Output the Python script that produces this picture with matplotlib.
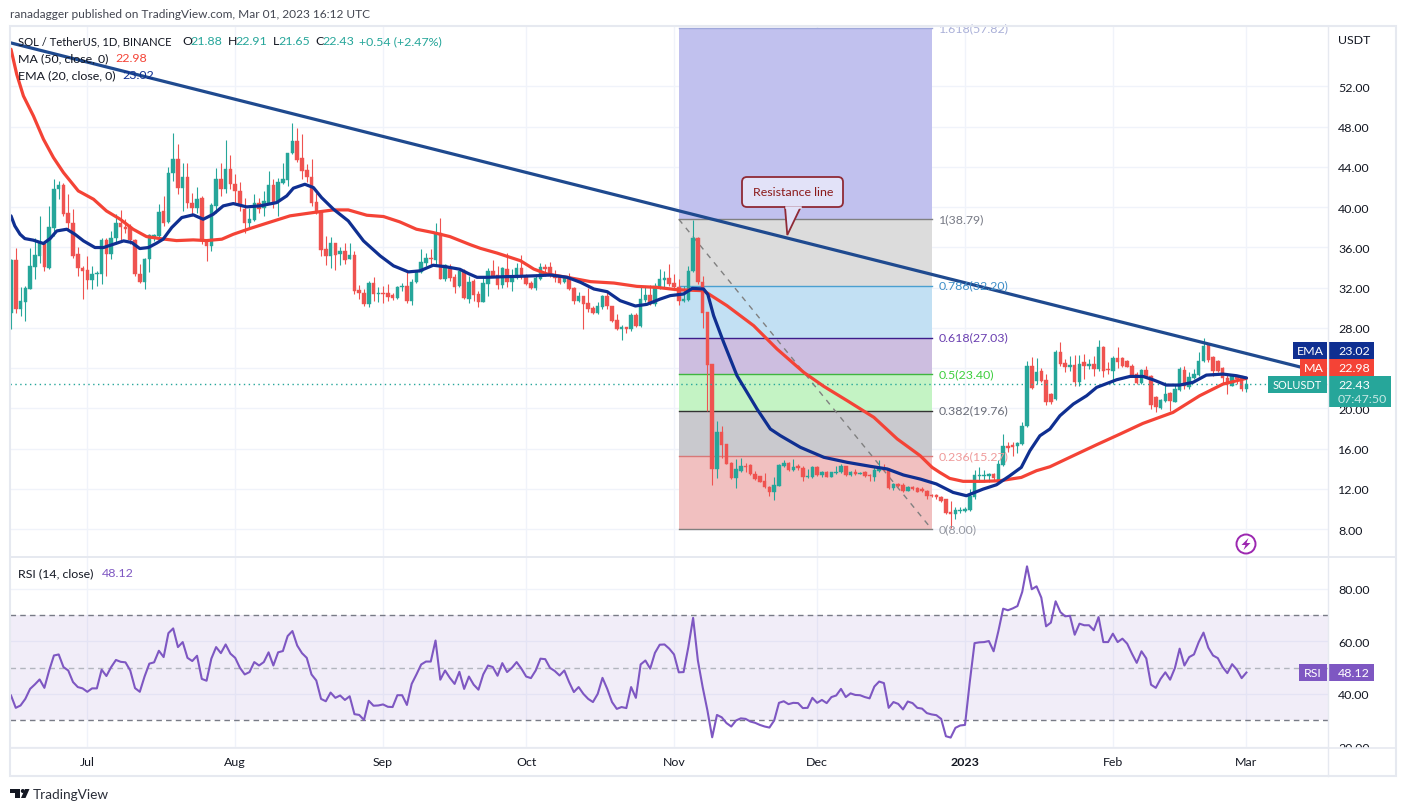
import matplotlib
matplotlib.use('Agg')
import matplotlib.pyplot as plt
from matplotlib.patches import Rectangle, FancyBboxPatch, Polygon, Circle
from matplotlib.transforms import Bbox

plt.rcParams['font.family'] = ['Lato', 'DejaVu Sans']

W, H = 1406, 812

# daily SOL/USDT candles, Jun 15 2022 (day 0) to Mar 1 2023 (day 259)
opens = [
    29.52, 34.75, 29.92, 30.58, 31.84, 34.06, 35.15, 36.38, 33.99, 37.97,
    41.78, 42.17, 39.39, 38.46, 35.32, 33.99, 33.76, 32.76, 33.30, 33.30,
    36.71, 35.32, 36.91, 38.40, 38.07, 38.00, 36.71, 33.39, 32.57, 34.82,
    37.00, 37.14, 39.59, 38.53, 43.43, 44.82, 41.91, 43.03, 40.45, 39.95,
    40.91, 36.64, 36.14, 40.12, 42.84, 41.78, 43.83, 42.34, 41.61, 39.85,
    38.40, 38.73, 40.45, 39.95, 40.45, 42.17, 40.62, 42.37, 42.70, 45.35,
    46.55, 44.86, 43.66, 43.03, 40.52, 39.52, 35.81, 35.15, 36.41, 35.32,
    35.65, 34.82, 35.22, 31.74, 31.50, 30.35, 32.43, 31.34, 31.50, 31.50,
    31.24, 31.00, 32.10, 32.17, 30.68, 32.57, 33.56, 34.49, 34.98, 34.75,
    37.40, 32.83, 34.09, 33.10, 32.17, 33.66, 30.91, 32.69, 31.36, 30.60,
    32.35, 33.68, 33.25, 32.25, 33.84, 32.59, 32.92, 33.91, 33.18, 32.42,
    31.92, 32.85, 34.01, 34.01, 33.25, 33.02, 32.52, 33.02, 31.92, 30.70,
    31.20, 30.43, 29.94, 29.47, 30.03, 31.20, 30.20, 28.81, 27.88, 28.05,
    27.88, 29.27, 28.15, 30.76, 31.26, 30.37, 31.92, 32.78, 32.95, 32.45,
    32.02, 30.66, 30.80, 33.68, 36.93, 32.52, 29.54, 24.37, 13.97, 17.61,
    16.42, 14.56, 13.04, 13.80, 14.30, 14.36, 13.50, 13.24, 12.77, 12.14,
    11.65, 12.31, 14.23, 14.56, 13.87, 14.23, 14.10, 13.14, 13.17, 14.17,
    13.37, 13.70, 13.14, 13.57, 13.64, 14.30, 13.37, 13.70, 13.47, 13.64,
    13.37, 13.20, 13.80, 14.03, 13.97, 12.04, 12.48, 12.41, 11.81, 12.14,
    12.08, 11.98, 11.75, 11.38, 11.38, 11.15, 10.98, 9.72, 9.49, 9.79,
    9.82, 9.92, 11.15, 13.23, 13.23, 13.30, 13.50, 12.90, 14.36, 16.28,
    16.35, 16.21, 16.45, 18.20, 24.17, 22.74, 23.67, 22.84, 21.42, 20.92,
    25.56, 24.50, 24.07, 24.30, 22.64, 24.56, 24.23, 24.40, 23.90, 26.05,
    23.90, 23.73, 24.96, 24.96, 24.73, 24.23, 23.40, 22.51, 23.83, 23.24,
    21.08, 20.00, 20.75, 21.51, 20.65, 21.85, 23.83, 22.08, 22.97, 23.30,
    24.73, 26.29, 25.06, 24.73, 23.97, 22.97, 22.24, 23.17, 23.17, 21.88,
]
highs = [
    34.82, 35.98, 32.10, 32.17, 35.98, 36.97, 39.13, 36.64, 40.12, 42.84,
    42.60, 42.44, 41.28, 39.79, 36.08, 34.16, 35.15, 34.16, 33.66, 36.97,
    36.97, 37.63, 39.29, 39.69, 38.79, 38.30, 36.81, 34.32, 34.98, 37.30,
    37.30, 40.28, 41.11, 44.00, 47.34, 46.25, 44.43, 44.43, 41.44, 42.04,
    41.11, 36.81, 40.45, 43.93, 44.36, 46.65, 45.15, 43.27, 42.50, 40.95,
    39.95, 41.28, 40.88, 41.61, 43.60, 42.77, 42.94, 44.43, 45.42, 48.34,
    47.91, 47.24, 44.26, 44.76, 41.44, 39.72, 37.14, 37.07, 36.41, 36.08,
    36.47, 36.47, 35.65, 32.23, 31.84, 32.66, 33.10, 32.10, 32.17, 32.33,
    31.50, 32.17, 32.50, 33.76, 32.83, 33.76, 35.88, 35.48, 35.81, 38.40,
    38.96, 34.32, 34.32, 33.33, 33.89, 33.82, 33.16, 32.85, 31.69, 33.18,
    33.91, 34.74, 34.11, 34.01, 35.44, 33.84, 34.44, 35.24, 33.35, 32.69,
    33.35, 34.44, 34.34, 34.51, 33.78, 33.18, 33.18, 33.41, 32.02, 31.53,
    31.20, 31.92, 30.20, 30.60, 31.26, 31.53, 30.20, 29.37, 28.28, 28.11,
    29.44, 29.44, 32.19, 32.19, 32.25, 32.45, 33.84, 33.68, 34.34, 33.35,
    32.85, 32.12, 34.11, 38.75, 37.00, 33.12, 29.54, 24.37, 18.77, 18.21,
    16.45, 14.69, 14.96, 15.03, 14.56, 14.46, 13.80, 13.30, 13.57, 12.24,
    13.14, 14.46, 14.89, 14.63, 14.96, 14.46, 14.30, 13.97, 14.30, 14.23,
    13.80, 13.80, 13.70, 14.23, 14.43, 14.30, 13.77, 13.97, 13.70, 13.80,
    13.47, 14.13, 14.89, 14.46, 14.10, 12.58, 12.58, 12.58, 12.31, 12.31,
    12.14, 12.14, 11.91, 11.51, 11.51, 11.31, 10.98, 10.81, 10.15, 10.15,
    10.15, 11.97, 13.89, 14.13, 13.89, 13.56, 13.56, 14.89, 17.44, 16.61,
    16.68, 16.68, 18.60, 24.73, 25.06, 24.96, 23.97, 23.40, 21.51, 25.82,
    26.62, 24.89, 25.23, 25.29, 25.29, 25.39, 24.89, 25.23, 26.82, 26.22,
    24.56, 25.16, 26.05, 25.06, 24.83, 24.40, 23.57, 23.90, 24.17, 23.30,
    21.18, 20.92, 22.58, 21.65, 22.41, 24.07, 24.17, 23.64, 23.90, 25.62,
    26.95, 26.48, 25.16, 24.83, 24.07, 23.30, 23.40, 23.30, 23.24, 22.91,
]
lows = [
    27.86, 29.52, 29.19, 28.69, 31.84, 32.83, 34.49, 33.66, 33.89, 37.14,
    40.78, 39.13, 37.80, 34.98, 33.16, 30.84, 31.84, 31.90, 32.17, 32.33,
    33.16, 34.82, 36.31, 36.64, 37.47, 36.31, 33.16, 32.50, 31.90, 33.50,
    36.64, 36.64, 38.13, 38.46, 42.60, 41.28, 39.62, 39.95, 39.13, 39.46,
    36.31, 34.65, 35.65, 39.46, 41.11, 41.44, 41.78, 40.45, 39.62, 37.47,
    37.87, 38.63, 39.46, 39.13, 40.28, 39.95, 39.13, 42.27, 42.10, 45.25,
    44.49, 42.77, 42.50, 40.12, 39.29, 35.15, 34.25, 33.99, 33.76, 34.29,
    34.32, 34.82, 31.34, 30.84, 30.18, 30.02, 30.68, 30.58, 30.45, 30.68,
    30.78, 30.91, 31.67, 30.45, 30.25, 32.50, 33.43, 34.16, 34.16, 34.16,
    32.83, 32.67, 32.67, 31.50, 32.10, 30.84, 30.45, 30.70, 30.03, 30.53,
    31.20, 33.02, 31.86, 31.92, 32.02, 31.69, 32.85, 32.85, 32.25, 31.86,
    31.79, 32.75, 33.18, 33.02, 32.52, 32.35, 32.45, 31.79, 30.37, 30.60,
    27.88, 29.54, 29.37, 29.37, 29.87, 29.87, 28.54, 27.81, 26.82, 27.48,
    27.72, 28.11, 28.08, 30.60, 30.27, 30.20, 31.86, 31.92, 32.12, 31.92,
    30.27, 30.53, 30.70, 33.58, 32.35, 27.98, 19.76, 12.41, 13.07, 15.03,
    14.46, 12.97, 12.08, 13.70, 13.64, 13.37, 12.87, 12.64, 12.08, 11.25,
    10.92, 12.24, 14.13, 13.80, 13.80, 13.90, 12.81, 13.07, 13.07, 13.30,
    13.20, 13.14, 13.14, 13.47, 13.57, 13.30, 13.24, 13.40, 13.44, 13.20,
    12.74, 12.74, 13.70, 13.80, 11.98, 11.88, 12.14, 11.65, 11.75, 11.91,
    11.65, 11.71, 10.99, 11.15, 10.99, 10.65, 9.49, 8.06, 9.00, 9.59,
    9.72, 9.82, 10.98, 12.64, 12.70, 12.70, 12.90, 12.80, 14.29, 15.62,
    15.29, 15.55, 16.35, 18.10, 21.91, 22.41, 22.64, 20.32, 20.42, 20.85,
    24.23, 23.64, 23.73, 22.24, 22.24, 22.91, 23.90, 23.24, 23.73, 23.07,
    23.40, 22.41, 23.97, 24.07, 24.07, 23.07, 22.41, 22.41, 22.97, 19.92,
    19.59, 19.92, 20.59, 19.76, 20.59, 21.75, 21.91, 21.91, 22.91, 23.24,
    24.63, 24.63, 23.24, 23.57, 22.41, 21.42, 22.24, 22.41, 21.75, 21.65,
]
closes = [
    34.75, 29.92, 30.68, 32.00, 34.16, 35.22, 36.48, 34.06, 38.07, 41.84,
    42.17, 39.29, 38.40, 35.15, 33.96, 33.66, 32.76, 33.33, 33.43, 36.74,
    35.32, 36.97, 38.40, 38.03, 37.87, 36.71, 33.30, 32.57, 34.89, 37.20,
    37.20, 39.52, 38.46, 43.43, 44.82, 41.91, 43.03, 40.38, 39.95, 40.85,
    36.64, 36.14, 40.18, 42.84, 41.78, 43.83, 42.34, 41.61, 40.12, 38.40,
    38.79, 40.38, 39.85, 40.58, 42.17, 40.28, 42.50, 42.77, 45.42, 46.55,
    44.69, 43.60, 42.97, 40.38, 39.46, 35.75, 35.15, 36.41, 35.22, 35.65,
    34.75, 35.22, 31.67, 31.44, 30.35, 32.50, 31.34, 31.44, 31.34, 31.07,
    30.94, 32.10, 32.17, 30.68, 32.60, 33.66, 34.59, 34.98, 34.82, 37.47,
    32.90, 34.22, 32.96, 32.10, 33.66, 30.94, 32.57, 31.26, 30.60, 32.45,
    33.68, 33.18, 32.29, 33.91, 32.59, 32.92, 33.94, 33.18, 32.35, 31.92,
    32.95, 34.01, 33.84, 33.18, 32.92, 32.45, 33.02, 31.86, 30.70, 31.20,
    30.37, 29.87, 29.44, 30.13, 31.20, 30.20, 28.71, 27.88, 28.05, 27.88,
    29.27, 28.21, 30.86, 31.26, 30.37, 32.12, 32.85, 32.95, 32.35, 32.02,
    30.70, 30.86, 33.68, 36.93, 32.52, 29.47, 24.30, 13.97, 17.61, 16.35,
    14.50, 13.04, 13.97, 14.23, 14.20, 13.44, 12.97, 12.71, 12.14, 11.65,
    12.38, 14.36, 14.56, 13.87, 14.13, 14.03, 13.14, 13.24, 14.17, 13.37,
    13.64, 13.14, 13.64, 13.70, 14.30, 13.37, 13.70, 13.47, 13.57, 13.24,
    13.24, 13.87, 14.03, 13.87, 12.04, 12.48, 12.31, 11.78, 12.18, 11.98,
    11.71, 11.75, 11.32, 11.25, 11.15, 10.81, 9.59, 9.49, 9.89, 9.92,
    9.99, 11.31, 13.36, 13.36, 13.36, 13.46, 13.03, 14.46, 16.21, 16.08,
    16.15, 16.55, 18.27, 24.17, 21.98, 23.63, 22.74, 20.59, 20.65, 25.56,
    24.40, 24.07, 24.30, 22.58, 24.40, 24.23, 24.40, 23.90, 26.05, 23.73,
    23.83, 24.96, 24.63, 24.23, 24.13, 23.17, 22.51, 23.83, 23.07, 20.32,
    20.09, 20.85, 21.42, 20.75, 21.91, 23.90, 22.18, 23.07, 23.40, 24.73,
    26.22, 24.83, 23.73, 23.73, 22.97, 22.41, 23.24, 22.90, 21.88, 22.43,
]

# EMA 20 line (day, price)
ema_days = [
    0, 0.8, 1.9, 2.9, 4.7, 6.8, 8.2, 9.6, 11.7, 13.4, 15.2, 17.6, 19.4, 21.5, 23.6, 25.3,
    27, 28.8, 30.5, 31.9, 33.7, 35.8, 38.2, 40.3, 42.4, 44.5, 46.6, 49.4, 52.2, 55.7, 57.8,
    59.2, 61.6, 63.4, 65.1, 67.6, 70.7, 73.9, 77.4, 80.2, 83.3, 85.7, 88.5, 91.3, 94.1, 95.9,
    97.7, 99.8, 103.3, 106.8, 110.3, 113.1, 116.6, 119.4, 122.2, 125, 127.7, 130.9, 133.3,
    136.1, 138.2, 141, 142.8, 145.2, 146.1, 147.3, 149.4, 152.2, 154.3, 156.4, 157.1, 159.2,
    161.3, 165.5, 170.4, 175.3, 180.2, 183.7, 187.1, 190.6, 194, 197.5, 200.3, 203.8, 206.6,
    209.4, 211.8, 213.6, 215.7, 217.8, 219.9, 222.7, 225.5, 227.6, 231.8, 234.6, 237.3, 239.4,
    242.2, 245, 247.8, 250.6, 254.1, 256.9, 259,
]
ema_values = [
    39.13, 38.13, 37.30, 36.87, 36.71, 36.38, 36.87, 37.63, 37.80, 37.30, 36.64, 35.98, 35.98,
    36.31, 36.64, 36.48, 35.88, 35.98, 36.41, 36.81, 37.97, 38.96, 39.23, 38.79, 39.29, 40.12,
    40.35, 40.02, 40.12, 40.45, 41.11, 41.88, 42.27, 41.94, 40.95, 39.79, 38.63, 36.64, 35.15,
    34.16, 33.56, 33.66, 34.22, 34.06, 33.82, 33.39, 33.02, 33.02, 33.08, 33.12, 33.18, 33.25,
    33.02, 32.52, 31.86, 31.59, 30.70, 30.17, 30.33, 30.86, 31.20, 31.36, 31.92, 31.86, 31.30,
    29.21, 26.56, 23.24, 21.59, 19.93, 19.43, 17.94, 17.28, 16.12, 15.13, 14.63, 14.23, 13.97,
    13.37, 12.97, 12.48, 11.64, 11.31, 11.97, 12.40, 13.30, 14.13, 15.78, 17.27, 17.94, 19.26,
    20.42, 21.25, 22.08, 22.84, 23.17, 23.17, 22.84, 22.31, 22.31, 22.58, 23.30, 23.40, 23.24,
    23.02,
]

# MA 50 line (day, price)
ma_days = [
    0, 1.2, 2.6, 4.7, 6.8, 8.9, 11, 14.1, 17.3, 20, 22.9, 25.6, 28.4, 31.2, 34.7, 38.2, 41,
    44.2, 46.6, 50.1, 53.6, 58.5, 63.4, 67.6, 70.7, 74.6, 78.1, 81.5, 85, 88.5, 92, 96.3, 98.4,
    101.9, 106.8, 109.6, 112.4, 116.6, 121.5, 126.4, 131.2, 135.4, 139.6, 145.2, 150.1, 155.7,
    160.6, 166.2, 170.4, 175.3, 180.9, 185.8, 190.6, 193.1, 194.7, 196.8, 199.6, 203.8, 207.3,
    211.8, 215, 217.8, 222.7, 227.6, 232.5, 237.3, 243.6, 249.2, 254.1, 259,
]
ma_values = [
    55.69, 53.20, 51.05, 49.06, 46.75, 44.92, 43.43, 41.61, 40.78, 39.62, 38.79, 37.80, 37.07,
    36.87, 36.67, 36.74, 36.67, 36.81, 37.30, 37.87, 38.40, 39.13, 39.46, 39.72, 39.72, 39.19,
    39.06, 38.53, 37.80, 37.47, 37.07, 36.26, 35.90, 35.43, 34.67, 33.84, 33.35, 33.02, 32.59,
    32.45, 32.12, 32.02, 31.79, 31.69, 30.20, 28.21, 25.89, 23.57, 22.18, 20.76, 19.10, 16.95,
    15.29, 14.13, 13.63, 13.03, 12.74, 12.74, 12.80, 13.13, 13.80, 14.19, 15.29, 16.38, 17.44,
    18.50, 19.59, 21.25, 22.41, 22.98,
]

rsi_values = [
    39.4, 34.7, 35.6, 38.1, 41.9, 43.6, 45.5, 42.3, 48.9, 54.6,
    55.0, 50.2, 48.9, 44.5, 42.6, 42.1, 40.8, 42.1, 42.1, 49.2,
    46.8, 50.2, 52.9, 52.2, 52.0, 48.9, 42.2, 40.8, 46.6, 51.5,
    52.0, 56.4, 54.0, 63.1, 64.9, 57.8, 59.7, 53.7, 52.5, 54.5,
    45.7, 45.0, 53.4, 57.8, 55.5, 58.8, 55.3, 53.7, 49.9, 47.4,
    48.3, 52.1, 50.8, 52.1, 55.8, 50.8, 55.8, 56.3, 62.0, 63.9,
    58.4, 55.5, 53.7, 47.4, 45.1, 38.1, 37.2, 40.5, 38.5, 39.4,
    37.7, 39.1, 32.3, 32.0, 30.1, 37.4, 35.5, 35.6, 36.0, 35.1,
    35.0, 39.5, 39.5, 35.8, 43.8, 47.4, 51.2, 52.3, 52.3, 60.3,
    45.4, 48.9, 46.1, 43.8, 48.4, 41.9, 46.6, 43.5, 41.6, 47.4,
    50.8, 50.2, 46.9, 51.7, 48.3, 49.9, 52.1, 49.6, 46.6, 46.0,
    48.9, 53.4, 53.2, 49.9, 48.7, 47.0, 48.9, 44.5, 40.7, 42.6,
    40.0, 38.1, 36.9, 40.0, 46.1, 41.9, 36.9, 34.3, 35.0, 34.6,
    42.6, 38.5, 51.2, 52.7, 49.6, 55.6, 58.7, 58.8, 57.2, 55.0,
    48.2, 48.3, 57.8, 68.9, 52.7, 42.6, 33.7, 23.5, 32.0, 31.1,
    28.9, 27.6, 29.9, 30.7, 30.5, 29.5, 29.0, 28.2, 27.6, 27.2,
    29.9, 36.6, 37.2, 36.1, 36.6, 36.5, 34.6, 34.7, 38.5, 36.6,
    37.7, 36.5, 38.8, 39.4, 41.9, 38.8, 40.2, 39.6, 39.5, 38.8,
    38.3, 42.8, 44.7, 44.1, 34.7, 36.9, 36.2, 34.1, 37.1, 36.5,
    34.7, 34.4, 32.7, 32.2, 31.9, 30.5, 23.9, 23.4, 27.1, 28.0,
    28.2, 44.5, 59.3, 59.6, 59.7, 60.1, 56.2, 63.9, 72.4, 71.8,
    72.5, 73.4, 78.8, 88.5, 79.8, 80.9, 76.6, 65.7, 67.1, 75.2,
    71.1, 69.5, 69.7, 62.5, 66.7, 66.1, 66.1, 64.2, 69.2, 59.7,
    59.7, 62.9, 59.7, 61.0, 59.1, 55.3, 51.8, 56.2, 53.5, 43.5,
    42.3, 45.7, 48.2, 45.4, 49.8, 57.2, 50.8, 54.0, 55.0, 59.7,
    63.3, 57.6, 54.6, 53.6, 50.2, 47.9, 51.3, 49.2, 46.0, 48.12,
]

# fib retracement levels, top to bottom
fib_ratios = ['1.618', '1', '0.786', '0.618', '0.5', '0.382', '0.236', '0']
fib_prices = [57.82, 38.79, 32.20, 27.03, 23.40, 19.76, 15.27, 8.00]
fib_fills = ['#c1c1ee', '#dcdcdc', '#c2e0f3', '#cdbee0', '#c4f3c4', '#c9c9ce', '#f1c0c0']
fib_lines = ['#9fa8da', '#808080', '#4a9fd0', '#3d1d8a', '#3fb53f', '#333333', '#d87878', '#808080']
fib_text = ['#aab0d8', '#787b86', '#3f8fc8', '#6a3fb0', '#3ecf3e', '#6a6d78', '#ef9a9a', '#9598a1']
fib_start, fib_end = 140, 193

trend_days = [-0.2, 272]
trend_prices = [56.34, 23.9]

price_ticks = [8, 12, 16, 20, 24, 28, 32, 36, 40, 44, 48, 52]
rsi_ticks = [20, 40, 60, 80]
month_days = [16, 47, 78, 108, 139, 169, 200, 231, 259]
month_labels = ['Jul', 'Aug', 'Sep', 'Oct', 'Nov', 'Dec', '2023', 'Feb', 'Mar']

GREEN = '#26a69a'
RED = '#ef5350'
MA_RED = '#f44336'
EMA_BLUE = '#0f2f91'
TREND_BLUE = '#1f4a8f'
PURPLE = '#7e57c2'
INK = '#131722'
GRID = '#f0f3fa'
FRAME = '#e6e9f0'
FS = 8.9


def px_rect(left, top, right, bottom):
    return [left / W, 1 - bottom / H, (right - left) / W, (bottom - top) / H]


fig = plt.figure(figsize=(W / 100, H / 100), dpi=100, facecolor='white')
ax = fig.add_axes(px_rect(10, 27, 1328, 558))
ax_rsi = fig.add_axes(px_rect(10, 558, 1328, 749), sharex=ax)

day_scale = 4.77
xlim = ((10 - 11) / day_scale, (1328 - 11) / day_scale)

# price pane
ax.set_xlim(xlim)
ax.set_ylim(5.22, 58.0)
ax.grid(True, color=GRID, linewidth=1)
ax.set_axisbelow(True)
for i, color in enumerate(fib_fills):
    ax.add_patch(Rectangle((fib_start, fib_prices[i + 1]), fib_end - fib_start,
                           fib_prices[i] - fib_prices[i + 1], facecolor=color,
                           edgecolor='none', zorder=1))
for i, price in enumerate(fib_prices):
    ax.plot([fib_start, fib_end], [price, price], color=fib_lines[i], linewidth=1, zorder=1.5)
    ax.text(194.5, price + 0.05, f'{fib_ratios[i]}({price:.2f})', color=fib_text[i], fontsize=FS,
            va='center', ha='left', zorder=6)
ax.plot([fib_start, fib_end], [fib_prices[1], fib_prices[-1]], color='#808080', linewidth=1,
        linestyle=(0, (4, 4)), zorder=1.6)

days = list(range(len(closes)))
colors = [GREEN if c >= o else RED for o, c in zip(opens, closes)]
ax.vlines(days, lows, highs, colors=colors, linewidth=0.8, zorder=2)
ax.bar(days, [abs(c - o) for o, c in zip(opens, closes)], bottom=[min(o, c) for o, c in zip(opens, closes)],
       width=0.74, color=colors, edgecolor=colors, linewidth=0.3, zorder=2.5)

ax.axhline(closes[-1], color=GREEN, linewidth=1, linestyle=(0, (1, 2.5)), zorder=3)
ax.plot(ma_days, ma_values, color=MA_RED, linewidth=2.3, zorder=4, solid_capstyle='round')
ax.plot(ema_days, ema_values, color=EMA_BLUE, linewidth=2.3, zorder=4.2, solid_capstyle='round')
ax.plot(trend_days, trend_prices, color=TREND_BLUE, linewidth=2.3, zorder=4.4)

ax.set_xticks(month_days)
ax.set_yticks(price_ticks)
ax.set_yticklabels([f'{v:.2f}' for v in price_ticks])
ax.yaxis.tick_right()
ax.tick_params(axis='y', length=0, pad=7.2, labelsize=FS, labelcolor=INK)
ax.tick_params(axis='x', length=0, labelbottom=False)
for s in ax.spines.values():
    s.set_visible(False)

# RSI pane
ax_rsi.set_ylim(19.43, 92.05)
ax_rsi.grid(True, color=GRID, linewidth=1)
ax_rsi.set_axisbelow(True)
ax_rsi.axhspan(30, 70, color=PURPLE, alpha=0.1, linewidth=0, zorder=1)
ax_rsi.axhline(70, color='#787b86', linewidth=1, linestyle=(0, (4, 3)), zorder=2)
ax_rsi.axhline(50, color='#b2b5be', linewidth=1, linestyle=(0, (4, 3)), zorder=2)
ax_rsi.axhline(30, color='#787b86', linewidth=1, linestyle=(0, (4, 3)), zorder=2)
ax_rsi.plot(days, rsi_values, color=PURPLE, linewidth=1.5, zorder=3)
ax_rsi.set_xticks(month_days)
ax_rsi.set_xticklabels(month_labels)
ax_rsi.set_yticks(rsi_ticks)
ax_rsi.set_yticklabels([f'{v:.2f}' for v in rsi_ticks])
ax_rsi.yaxis.tick_right()
ax_rsi.tick_params(axis='y', length=0, pad=7.2, labelsize=FS, labelcolor=INK)
ax_rsi.tick_params(axis='x', length=0, pad=6.0, labelsize=FS, labelcolor=INK)
for s in ax_rsi.spines.values():
    s.set_visible(False)
clip = Bbox([[1328, H - 749], [1396, H - 558]])
for lab in ax_rsi.get_yticklabels():
    lab.set_clip_on(True)
    lab.set_clip_box(clip)
for lab in ax_rsi.get_xticklabels():
    if lab.get_text() == '2023':
        lab.set_fontweight('bold')

# overlay in pixel coordinates for frame, tags, legends, callout
ov = fig.add_axes([0, 0, 1, 1], facecolor='none', zorder=10)
ov.set_xlim(0, W)
ov.set_ylim(H, 0)
ov.axis('off')

ov.add_patch(Rectangle((9.5, 26.5), 1386, 750.5, fill=False, edgecolor=FRAME, linewidth=1.5))
ov.plot([1328, 1328], [27, 777], color=FRAME, linewidth=1)
ov.plot([10, 1395], [558, 558], color=FRAME, linewidth=1.4)
ov.plot([10, 1395], [749, 749], color=FRAME, linewidth=1.2)

ov.text(10, 14.7, 'ranadagger published on TradingView.com, Mar 01, 2023 16:12 UTC',
        fontsize=8.6, color='#434651', va='center')
ov.text(1338, 41, 'USDT', fontsize=FS, color=INK, va='center')

# legend rows
ov.text(17.7, 41.7, 'SOL / TetherUS, 1D, BINANCE', fontsize=8.1, color=INK, va='center')
ohlc_parts = [(182.7, 'O', INK), (190.7, '21.88', GREEN), (227.7, 'H', INK), (235, '22.91', GREEN),
              (272.7, 'L', INK), (278.7, '21.65', GREEN), (315, 'C', INK), (322.7, '22.43', GREEN),
              (359.3, '+0.54 (+2.47%)', GREEN)]
for x, s, c in ohlc_parts:
    ov.text(x, 41.7, s, fontsize=FS, color=c, va='center')
ov.text(17.7, 58.7, 'MA (50, close, 0)', fontsize=FS, color=INK, va='center')
ov.text(115.7, 58.7, '22.98', fontsize=FS, color=MA_RED, va='center')
ov.text(17.7, 75.7, 'EMA (20, close, 0)', fontsize=FS, color=INK, va='center')
ov.text(122.3, 75.7, '23.02', fontsize=FS, color=EMA_BLUE, va='center')
ov.text(18, 574, 'RSI (14, close)', fontsize=FS, color=INK, va='center')
ov.text(101.8, 574, '48.12', fontsize=FS, color=PURPLE, va='center')


def tag(label_left, top, bottom, color, label, value, right=1374):
    ov.add_patch(Rectangle((label_left, top), 1327 - label_left, bottom - top, facecolor=color, edgecolor='none'))
    ov.add_patch(Rectangle((1328, top), right - 1328, bottom - top, facecolor=color, edgecolor='none'))
    ov.text((label_left + 1327) / 2, (top + bottom) / 2, label, color='white', fontsize=FS, ha='center', va='center')
    ov.text(1338, (top + bottom) / 2, value, color='white', fontsize=FS, va='center')


tag(1293, 343, 360, EMA_BLUE, 'EMA', '23.02')
tag(1300, 360, 377, MA_RED, 'MA', '22.98')
ov.add_patch(Rectangle((1268, 377), 59, 17, facecolor=GREEN, edgecolor='none'))
ov.add_patch(Rectangle((1328, 377), 63, 31, facecolor=GREEN, edgecolor='none'))
ov.text(1297.5, 385.5, 'SOLUSDT', color='white', fontsize=7.9, ha='center', va='center')
ov.text(1338, 385.5, '22.43', color='white', fontsize=FS, va='center')
ov.text(1338, 399.5, '07:47:50', color='#c8e9e5', fontsize=FS, va='center')
tag(1299, 665, 681.7, PURPLE, 'RSI', '48.12')

# callout
callout_fill = '#e2e2f8'
callout_edge = '#8f2a35'
ov.add_patch(FancyBboxPatch((747, 183), 91, 20, boxstyle='round,pad=5,rounding_size=5',
                            facecolor=callout_fill, edgecolor=callout_edge, linewidth=1.3))
ov.add_patch(Polygon([(785, 208), (787.3, 236), (800.7, 208)], closed=True,
                     facecolor=callout_fill, edgecolor=callout_edge, linewidth=1.3))
ov.plot([786, 799.5], [208, 208], color=callout_fill, linewidth=1.8)
ov.text(793, 192, 'Resistance line', color='#8b1a1a', fontsize=FS, ha='center', va='center')

# news badge
ov.add_patch(Circle((1246, 545), 9.5, facecolor='white', edgecolor='#9c27b0', linewidth=1.4))
ov.add_patch(Polygon([(1248.5, 539), (1241.5, 546), (1245.5, 546), (1243.5, 551), (1250.5, 544), (1246.5, 544)],
                     closed=True, facecolor='#9c27b0', edgecolor='none'))

# logo
logo = '#131722'
ov.add_patch(Polygon([(10, 790), (20, 790), (20, 799), (15, 799), (15, 794), (10, 794)], closed=True,
                     facecolor=logo, edgecolor='none'))
ov.add_patch(Circle((22.8, 792), 2, facecolor=logo, edgecolor='none'))
ov.add_patch(Polygon([(25, 790), (29.5, 790), (25.5, 799), (21, 799)], closed=True, facecolor=logo, edgecolor='none'))
ov.text(33, 795, 'TradingView', fontsize=9.8, color='#2a2e39', va='center')

fig.savefig('out.png', dpi=100)
